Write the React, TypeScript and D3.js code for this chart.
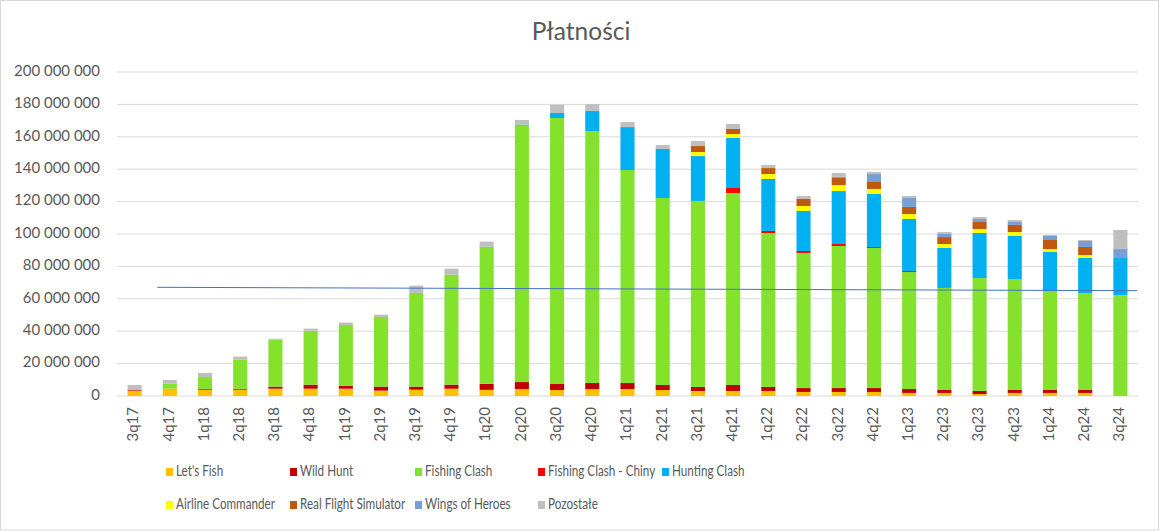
import React from "react";
import * as d3 from "d3";

// values in millions of PLN
const quarters = ["3q17","4q17","1q18","2q18","3q18","4q18","1q19","2q19","3q19","4q19","1q20","2q20","3q20","4q20","1q21","2q21","3q21","4q21","1q22","2q22","3q22","4q22","1q23","2q23","3q23","4q23","1q24","2q24","3q24"];

const letsFish = [3.3,4.5,3.9,3.9,4.5,4.5,4.5,3.3,3.9,4.5,3.8,4.3,3.7,4.3,4.3,3.7,3.1,3.1,3.1,2.5,2.5,2.5,1.9,1.9,1.2,1.9,1.9,1.9,0];
const wildHunt = [0.6,0,0.6,0.6,1.3,2.5,1.9,2.5,1.9,2.5,3.7,4.3,3.7,3.7,3.7,3.1,2.5,3.7,2.5,2.4,2.4,2.4,2.4,1.8,1.9,1.8,1.8,1.8,0];
const fishingClash = [0,3.1,7.2,17.9,29.0,33.3,37.4,43.0,57.8,67.9,84.6,158.3,164.2,155.6,131.5,115.4,114.8,118.5,95.0,83.4,87.7,86.5,72.2,63.0,69.7,68.5,61.1,59.9,62.3];
const fishingClashChiny = [0,0,0,0,0,0,0,0,0,0,0,0,0,0,0,0,0,3.1,1.3,1.2,1.2,0.6,0.7,0,0,0,0,0,0];
const huntingClash = [0,0,0,0,0,0,0,0,0,0,0,0.6,3.1,12.3,26.5,30.3,27.7,30.9,32.1,24.7,32.7,32.7,32.1,24.7,27.8,26.6,24.1,21.6,22.9];
const airlineCommander = [0,0,0,0,0,0,0,0,0,0,0,0,0,0,0,0,2.5,2.4,3.0,3.1,3.7,3.1,3.0,2.4,2.5,2.4,1.8,1.8,0];
const realFlightSimulator = [0,0,0,0,0,0,0,0,0,0,0,0,0,0,0,0,3.7,3.1,3.7,4.3,4.4,4.3,4.4,4.3,4.3,4.4,5.6,5.0,0];
const wingsOfHeroes = [0,0,0,0,0,0,0,0,0,0,0,0,0,0,0,0,0,0,0,0,0.8,4.9,5.5,1.9,1.9,1.8,2.5,3.7,5.5];
const pozostale = [2.9,2.3,2.5,1.9,0.6,1.3,1.5,1.4,4.5,3.7,3.2,2.9,5.1,4.3,3.1,2.4,3.1,3.1,1.9,1.9,2.3,1.3,1.3,1.2,1.2,1.2,0.6,0.6,11.8];

const seriesNames = ["Let's Fish","Wild Hunt","Fishing Clash","Fishing Clash - Chiny","Hunting Clash","Airline Commander","Real Flight Simulator","Wings of Heroes","Pozostałe"];
const seriesValues = [letsFish,wildHunt,fishingClash,fishingClashChiny,huntingClash,airlineCommander,realFlightSimulator,wingsOfHeroes,pozostale];
const seriesColors = ["#FFC000","#C00000","#84E12C","#FF0000","#00B0F0","#FFFF00","#C0580F","#779FD3","#BFBFBF"];

const yTicks = [0,20,40,60,80,100,120,140,160,180,200];
// linear trend line: [category position, value in millions]
const trendLine: [number, number][] = [[0.64, 67.1],[28.48, 65.0]];

const W = 1162, H = 531;
const M = { left: 117, right: 1138, top: 72, bottom: 396 };
const FONT = "Lato, 'Open Sans', sans-serif";
const TXT = "#595959";

export default function App() {
  const x = d3.scaleBand<string>().domain(quarters).range([M.left, M.right]).paddingInner(0.6).paddingOuter(0.3);
  const y = d3.scaleLinear().domain([0, 200]).range([M.bottom, M.top]);
  const rows = quarters.map((q, i) => {
    const r: any = { q };
    seriesNames.forEach((s, k) => (r[s] = seriesValues[k][i]));
    return r;
  });
  const stacked = d3.stack<any>().keys(seriesNames)(rows);
  const fmt = (v: number) => d3.format(",")(v * 1e6).replace(/,/g, " ");
  const catX = d3.scaleLinear().domain([0, quarters.length - 1]).range([x(quarters[0])! + x.bandwidth() / 2, x(quarters[quarters.length - 1])! + x.bandwidth() / 2]);
  const line = d3.line<[number, number]>().x(d => catX(d[0])).y(d => y(d[1]));

  const legendCols = [166, 290, 415, 538, 662];
  return (
    <div style={{ position: "fixed", left: 0, top: 0 }}>
      <svg width={W} height={H} style={{ display: "block", fontFamily: FONT }}>
        <rect x={0.5} y={0.5} width={W - 4} height={H - 1.5} fill="#fff" stroke="#D9D9D9" />
        <text x={581} y={39.5} textAnchor="middle" fontSize={24.5} fill={TXT}>Płatności</text>
        {yTicks.map(t => (
          <g key={t}>
            <line x1={M.left} x2={M.right} y1={y(t)} y2={y(t)} stroke="#D9D9D9" strokeWidth={1} />
            <text x={100} y={y(t)} textAnchor="end" dominantBaseline="middle" fontSize={15} fill={TXT}>{fmt(t)}</text>
          </g>
        ))}
        {stacked.map((s, k) => (
          <g key={s.key} fill={seriesColors[k]}>
            {s.map((d, i) => d[1] - d[0] > 0 ? (
              <rect key={i} x={x(quarters[i])} width={x.bandwidth()} y={y(d[1])} height={y(d[0]) - y(d[1])} />
            ) : null)}
          </g>
        ))}
        <path d={line(trendLine)!} fill="none" stroke="#4472C4" strokeWidth={1} />
        {quarters.map(q => {
          const cx = x(q)! + x.bandwidth() / 2;
          return (
            <text key={q} transform={`translate(${cx},${407}) rotate(-90)`} textAnchor="end" dominantBaseline="middle" fontSize={15} fill={TXT}>{q}</text>
          );
        })}
        {seriesNames.map((s, k) => {
          const row = k < 5 ? 0 : 1;
          const col = k < 5 ? k : k - 5;
          const lx = legendCols[col];
          const ly = row === 0 ? 472 : 505;
          return (
            <g key={s}>
              <rect x={lx} y={ly - 4} width={7} height={8} fill={seriesColors[k]} />
              <text x={lx + 10} y={ly} dominantBaseline="middle" fontSize={15} fill={TXT} transform={`translate(${lx + 10},0) scale(0.78,1) translate(${-(lx + 10)},0)`}>{s}</text>
            </g>
          );
        })}
      </svg>
    </div>
  );
}
